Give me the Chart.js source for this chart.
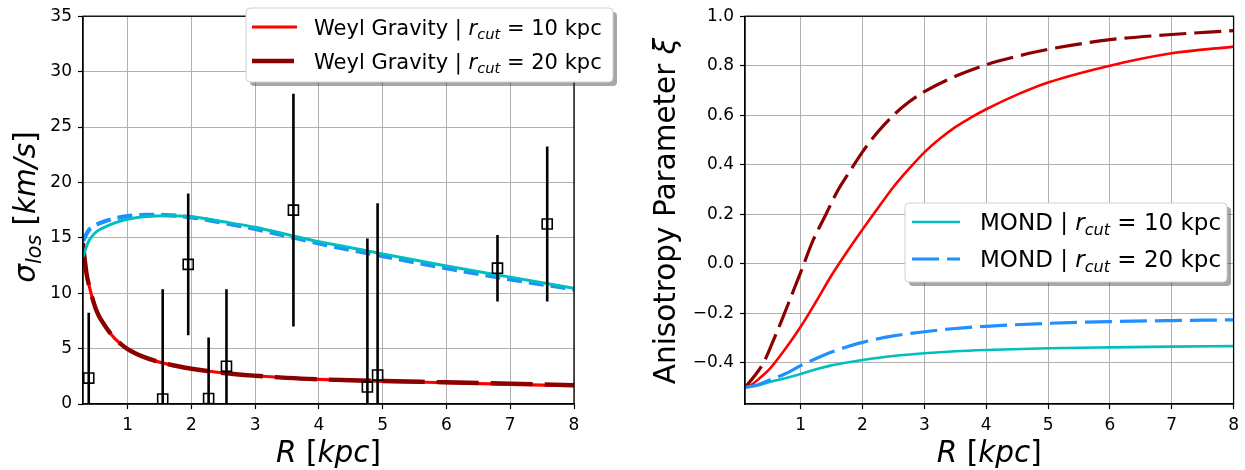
<!DOCTYPE html>
<html>
<head>
<meta charset="utf-8">
<script src="https://cdn.jsdelivr.net/npm/chart.js@4.4.0/dist/chart.umd.min.js"></script>
<style>
  body { margin: 0; background: #fff; width: 1245px; height: 470px; overflow: hidden; position: relative; }
  canvas { position: absolute; top: 0; }
  #left { left: 0; }
  #right { left: 620px; }
</style>
</head>
<body>
<canvas id="left" width="620" height="470"></canvas>
<canvas id="right" width="625" height="470"></canvas>
<script>
'use strict';
// ---------- data ----------
const rCut = [10, 20];

// left panel: line-of-sight dispersion
const weylR = [0.3, 0.33, 0.36, 0.4, 0.45, 0.5, 0.55, 0.6, 0.7, 0.8, 0.9, 1.0, 1.25, 1.5, 1.75, 2, 2.5, 3, 3.5, 4, 4.5, 5, 6, 7, 8];
const weylSigma10 = [14.5, 12.9, 11.6, 10.6, 9.5, 8.6, 7.95, 7.45, 6.6, 5.9, 5.38, 4.95, 4.25, 3.78, 3.45, 3.18, 2.8, 2.55, 2.36, 2.22, 2.12, 2.05, 1.92, 1.78, 1.63];
const weylSigma20 = [14.5, 12.9, 11.6, 10.6, 9.5, 8.6, 7.95, 7.45, 6.6, 5.9, 5.38, 4.95, 4.25, 3.78, 3.45, 3.18, 2.8, 2.55, 2.36, 2.23, 2.14, 2.07, 1.96, 1.84, 1.70];
const mondR = [0.3, 0.35, 0.4, 0.5, 0.6, 0.8, 1.0, 1.3, 1.6, 2, 2.5, 3, 3.5, 4, 4.5, 5, 6, 7, 8];
const mondSigma10 = [13.3, 14.15, 14.8, 15.5, 15.85, 16.35, 16.68, 16.92, 17.0, 16.9, 16.45, 15.95, 15.3, 14.65, 14.1, 13.55, 12.45, 11.45, 10.45];
const mondSigma20 = [14.7, 15.3, 15.75, 16.15, 16.4, 16.75, 16.95, 17.07, 17.05, 16.85, 16.35, 15.8, 15.15, 14.5, 13.9, 13.35, 12.25, 11.25, 10.35];

// observed points with symmetric errors
const obsR = [0.39, 1.55, 1.95, 2.27, 2.55, 3.60, 4.76, 4.92, 6.80, 7.58];
const obsSigma = [2.34, 0.45, 12.6, 0.5, 3.4, 17.5, 1.53, 2.61, 12.26, 16.25];
const obsErr = [5.9, 9.9, 6.4, 5.5, 6.96, 10.5, 13.4, 15.5, 3.0, 7.0];

// right panel: anisotropy parameter
const weylXiR10 = [0.1, 0.2, 0.35, 0.5, 0.75, 1.0, 1.25, 1.5, 1.75, 2, 2.25, 2.5, 2.75, 3, 3.25, 3.5, 3.75, 4, 4.5, 5, 6, 7, 8];
const weylXi10 = [-0.5, -0.49, -0.46, -0.425, -0.345, -0.255, -0.153, -0.047, 0.048, 0.138, 0.225, 0.31, 0.383, 0.45, 0.505, 0.552, 0.59, 0.624, 0.683, 0.732, 0.80, 0.85, 0.877];
const weylXiR20 = [0.1, 0.25, 0.4, 0.55, 0.7, 0.85, 1.0, 1.2, 1.4, 1.6, 1.8, 2.0, 2.25, 2.5, 2.75, 3, 3.5, 4, 4.5, 5, 6, 7, 8];
const weylXi20 = [-0.5, -0.455, -0.40, -0.315, -0.225, -0.13, -0.035, 0.094, 0.195, 0.296, 0.375, 0.452, 0.533, 0.60, 0.653, 0.695, 0.757, 0.804, 0.838, 0.866, 0.905, 0.926, 0.942];
const mondXiR = [0.1, 0.3, 0.5, 0.75, 1.0, 1.25, 1.5, 1.75, 2, 2.5, 3, 3.5, 4, 5, 6, 7, 8];
const mondXi10 = [-0.5, -0.492, -0.478, -0.463, -0.446, -0.427, -0.411, -0.399, -0.389, -0.373, -0.362, -0.354, -0.349, -0.342, -0.338, -0.335, -0.333];
const mondXi20 = [-0.5, -0.49, -0.47, -0.445, -0.412, -0.383, -0.357, -0.336, -0.318, -0.292, -0.275, -0.262, -0.253, -0.241, -0.234, -0.23, -0.227];

// tick labels
const rTicks = [1, 2, 3, 4, 5, 6, 7, 8];
const sigmaTicks = [0, 5, 10, 15, 20, 25, 30, 35];
const xiTicks = [-0.4, -0.2, 0.0, 0.2, 0.4, 0.6, 0.8, 1.0];

// ---------- helpers ----------
const FONT = 'DejaVu Sans';
Chart.defaults.font.family = FONT;
Chart.defaults.color = '#000';

function pts(xs, ys) {
  return xs.map((x, i) => ({x: x, y: ys[i]}));
}

function segFont(s, size) {
  const sz = s.sub ? size * 0.7 : size;
  return (s.it ? 'italic ' : '') + sz + 'px "' + FONT + '"';
}
function richWidth(ctx, segs, size) {
  let w = 0;
  segs.forEach(s => { ctx.font = segFont(s, size); w += ctx.measureText(s.t).width; });
  return w;
}
function drawRich(ctx, segs, x, y, size, align) {
  let cx = align === 'center' ? x - richWidth(ctx, segs, size) / 2 : x;
  ctx.textAlign = 'left';
  ctx.textBaseline = 'alphabetic';
  ctx.fillStyle = '#000';
  segs.forEach(s => {
    ctx.font = segFont(s, size);
    ctx.fillText(s.t, cx, y + (s.sub ? size * 0.22 : 0));
    cx += ctx.measureText(s.t).width;
  });
}
function roundRect(ctx, x, y, w, h, r) {
  ctx.beginPath();
  ctx.moveTo(x + r, y);
  ctx.arcTo(x + w, y, x + w, y + h, r);
  ctx.arcTo(x + w, y + h, x, y + h, r);
  ctx.arcTo(x, y + h, x, y, r);
  ctx.arcTo(x, y, x + w, y, r);
  ctx.closePath();
}
function cutLabel(prefix, rc) {
  return [{t: prefix + ' | '}, {t: 'r', it: 1}, {t: 'cut', it: 1, sub: 1}, {t: ' = ' + rc}, {t: ' kpc'}];
}

// frame, axis titles and legend box
const decor = {
  id: 'decor',
  afterDatasetsDraw(chart) {
    const {ctx, chartArea: a} = chart;
    ctx.save();
    ctx.strokeStyle = '#000';
    ctx.lineWidth = 1.3;
    ctx.strokeRect(a.left, a.top, a.right - a.left, a.bottom - a.top);
    ctx.restore();
  },
  afterDraw(chart, args, o) {
    const {ctx, chartArea: a} = chart;
    ctx.save();
    drawRich(ctx, o.xTitle, (a.left + a.right) / 2, o.xTitleBase, o.titleSize, 'center');
    ctx.save();
    ctx.translate(o.yTitleBase, o.yTitleMid);
    ctx.rotate(-Math.PI / 2);
    drawRich(ctx, o.yTitle, 0, 0, o.titleSize, 'center');
    ctx.restore();

    const lg = o.legend;
    roundRect(ctx, lg.x + 4, lg.y + 4, lg.w, lg.h, 4);
    ctx.fillStyle = 'rgba(60,60,60,0.45)';
    ctx.fill();
    roundRect(ctx, lg.x, lg.y, lg.w, lg.h, 4);
    ctx.fillStyle = '#fff';
    ctx.fill();
    ctx.strokeStyle = '#d0d0d0';
    ctx.lineWidth = 1;
    ctx.stroke();
    lg.items.forEach((it, i) => {
      const ds = chart.data.datasets.find(d => d.label === it);
      const cy = lg.y + lg.row0 + i * lg.rowGap;
      ctx.beginPath();
      ctx.setLineDash(ds.borderDash || []);
      ctx.strokeStyle = ds.borderColor;
      ctx.lineWidth = ds.borderWidth;
      ctx.moveTo(lg.x + lg.hx0, cy);
      ctx.lineTo(lg.x + lg.hx1, cy);
      ctx.stroke();
      ctx.setLineDash([]);
      drawRich(ctx, ds.rich, lg.x + lg.tx, cy + lg.size * 0.36, lg.size, 'left');
    });
    ctx.restore();
  }
};

function curve(label, rich, xs, ys, color, width, dash) {
  return {
    label: label, rich: rich, data: pts(xs, ys),
    borderColor: color, borderWidth: width, borderDash: dash || [],
    pointRadius: 0, fill: false, cubicInterpolationMode: 'monotone', clip: 0
  };
}

function axis(min, max, ticks, fmt, fitKey, fitVal, pad) {
  return {
    type: 'linear', min: min, max: max,
    afterBuildTicks: s => { s.ticks = ticks.map(v => ({value: v})); },
    afterFit: s => { s[fitKey] = fitVal; },
    grid: { color: '#b0b0b0', lineWidth: 1, tickColor: '#000', tickLength: 5, tickWidth: 1.2 },
    border: { display: true, color: '#000', width: 1.3 },
    ticks: { font: { size: 17 }, color: '#000', padding: pad, autoSkip: false, maxRotation: 0, callback: fmt }
  };
}

// ---------- left panel ----------
const leftSets = [
  curve('weyl10', cutLabel('Weyl Gravity', rCut[0]), weylR, weylSigma10, '#ff0000', 3.2),
  curve('weyl20', cutLabel('Weyl Gravity', rCut[1]), weylR, weylSigma20, '#8b0000', 4.4, [42, 12]),
  curve('mond20', cutLabel('MOND', rCut[1]), mondR, mondSigma20, '#1e90ff', 4.2, [15, 7]),
  curve('mond10', cutLabel('MOND', rCut[0]), mondR, mondSigma10, '#00bfbf', 3)
];
obsR.forEach((r, i) => {
  leftSets.push({
    label: 'err' + i,
    data: [{x: r, y: obsSigma[i] - obsErr[i]}, {x: r, y: obsSigma[i] + obsErr[i]}],
    borderColor: '#000', borderWidth: 2.6, pointRadius: 0, clip: 0
  });
});
leftSets.push({
  label: 'data', data: pts(obsR, obsSigma), showLine: false,
  pointStyle: 'rect', pointRadius: 7.1, borderColor: '#000', borderWidth: 1.6,
  backgroundColor: 'rgba(0,0,0,0)', clip: 0
});

new Chart(document.getElementById('left'), {
  type: 'line',
  data: { datasets: leftSets.reverse() },
  options: {
    responsive: false, animation: false,
    layout: { padding: { left: 0, top: 16, right: 46, bottom: 0 } },
    scales: {
      x: axis(0.3, 8, rTicks, v => String(v), 'height', 66, 6),
      y: axis(0, 35, sigmaTicks, v => String(v), 'width', 83, 6)
    },
    plugins: {
      legend: { display: false }, tooltip: { enabled: false },
      decor: {
        titleSize: 29.5,
        xTitle: [{t: 'R', it: 1}, {t: ' ['}, {t: 'kpc', it: 1}, {t: ']'}],
        xTitleBase: 462,
        yTitle: [{t: 'σ', it: 1}, {t: 'los', it: 1, sub: 1}, {t: ' ['}, {t: 'km/s', it: 1}, {t: ']'}],
        yTitleBase: 35, yTitleMid: 207,
        legend: { x: 246, y: 8, w: 367, h: 74, row0: 19, rowGap: 34, hx0: 6, hx1: 51, tx: 68, size: 21, items: ['weyl10', 'weyl20'] }
      }
    }
  },
  plugins: [decor]
});

// ---------- right panel ----------
const rightSets = [
  curve('weyl10', cutLabel('Weyl Gravity', rCut[0]), weylXiR10, weylXi10, '#ff0000', 2.6),
  curve('weyl20', cutLabel('Weyl Gravity', rCut[1]), weylXiR20, weylXi20, '#8b0000', 3.2, [27, 8]),
  curve('mond10', cutLabel('MOND', rCut[0]), mondXiR, mondXi10, '#00bfbf', 2.6),
  curve('mond20', cutLabel('MOND', rCut[1]), mondXiR, mondXi20, '#1e90ff', 3.2, [27, 8])
];

new Chart(document.getElementById('right'), {
  type: 'line',
  data: { datasets: rightSets.reverse() },
  options: {
    responsive: false, animation: false,
    layout: { padding: { left: 0, top: 16, right: 7, bottom: 0 } },
    scales: {
      x: axis(0.1, 8, rTicks, v => String(v), 'height', 66, 6),
      y: axis(-0.567, 1.0, xiTicks, v => v.toFixed(1).replace('-', '\u2212'), 'width', 125, 6)
    },
    plugins: {
      legend: { display: false }, tooltip: { enabled: false },
      decor: {
        titleSize: 29.5,
        xTitle: [{t: 'R', it: 1}, {t: ' ['}, {t: 'kpc', it: 1}, {t: ']'}],
        xTitleBase: 462,
        yTitle: [{t: 'Anisotropy Parameter '}, {t: 'ξ', it: 1}],
        yTitleBase: 55, yTitleMid: 211,
        legend: { x: 285, y: 203, w: 322, h: 79, row0: 19, rowGap: 37, hx0: 7, hx1: 55, tx: 75, size: 23, items: ['mond10', 'mond20'] }
      }
    }
  },
  plugins: [decor]
});
</script>
</body>
</html>
